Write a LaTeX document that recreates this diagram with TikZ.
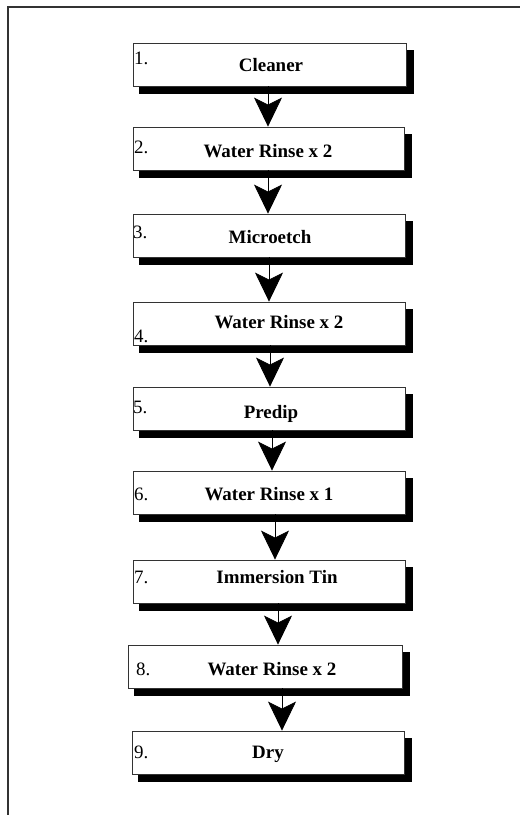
\documentclass[tikz,border=0pt]{standalone}
\usepackage{fontspec}
\setmainfont{Liberation Serif}
\usetikzlibrary{arrows.meta}
\begin{document}
\begin{tikzpicture}[x=1bp,y=-1bp,
  stepbox/.style={draw=black!80, line width=0.8bp, fill=white, minimum height=43bp, inner sep=0pt},
  shadowfill/.style={fill=black},
  numlbl/.style={anchor=base west, font=\fontsize{19}{22}\selectfont, inner sep=0pt},
  titlelbl/.style={anchor=base, font=\fontsize{19}{22}\selectfont\bfseries, inner sep=0pt},
  arr/.style={draw=black, line width=0.8bp, -{Stealth[length=29bp,width=28bp,inset=7bp,fill=black]}},
  frameline/.style={draw=black!80, line width=1.4bp}
]
\useasboundingbox (0,0) rectangle (520,815);
\draw[frameline] (8,815) -- (8,7) -- (520,7);
\foreach \i/\xa/\xb/\t/\ttl/\nd/\td/\tc/\nx in {
  1/133/406/43/Cleaner/22/29/271/134,
  2/133/404/127/Water Rinse x 2/26/30/268/134,
  3/133/405/214/Microetch/24/29/270/133,
  4/133/405/302/Water Rinse x 2/40/26/279/134,
  5/133/405/387/Predip/26/31/271/133,
  6/133/405/471/Water Rinse x 1/29/29/269/134,
  7/133/405/560/Immersion Tin/23/23/277/134,
  8/128/402/645/Water Rinse x 2/30/30/272/136,
  9/132/404/731/Dry/27/27/268/134}{
  \fill[shadowfill] ({\xa+6},{\t+7}) rectangle ({\xb+8},{\t+51});
  \node[stepbox, minimum width={(\xb-\xa)*1bp}] (b\i) at ({(\xa+\xb)/2},{\t+21.5}) {};
  \node[numlbl] (n\i) at ({\nx},{\t+\nd}) {\i.};
  \node[titlelbl] (l\i) at ({\tc},{\t+\td}) {\ttl};
}
\foreach \i/\j/\d in {1/2/-1.5, 2/3/-0.5, 3/4/0, 4/5/1, 5/6/3, 6/7/6, 7/8/9, 8/9/17}{
  \coordinate (s\i) at ([xshift=\d bp]b\i.south);
  \draw[arr] (s\i) -- (s\i |- b\j.north);
}
\end{tikzpicture}
\end{document}
